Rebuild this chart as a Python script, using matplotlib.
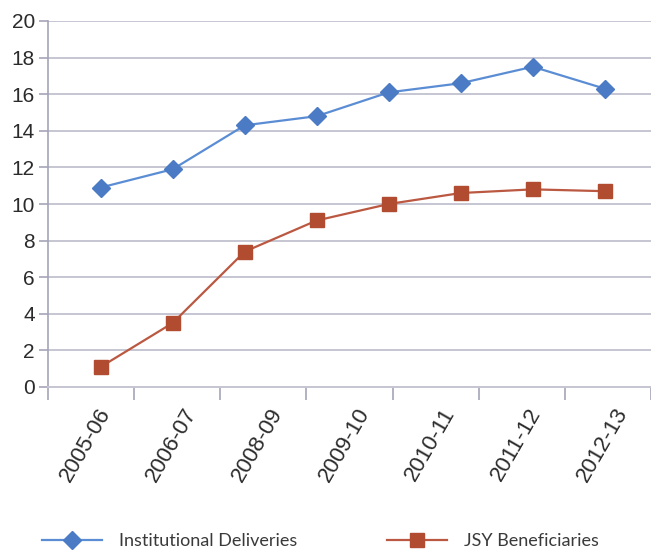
import matplotlib
matplotlib.use("Agg")
import matplotlib.pyplot as plt
import matplotlib.transforms as mtransforms
import numpy as np

# ---- data ----
year_labels = ["2005-06", "2006-07", "2008-09", "2009-10", "2010-11", "2011-12", "2012-13"]
institutional = [10.9, 11.9, 14.3, 14.8, 16.1, 16.6, 17.5, 16.3]
jsy = [1.1, 3.5, 7.4, 9.1, 10.0, 10.6, 10.8, 10.7]
series_names = ["Institutional Deliveries", "JSY Beneficiaries"]
yticks = [0, 2, 4, 6, 8, 10, 12, 14, 16, 18, 20]

# ---- style ----
blue_line = "#5b8dd4"
blue_mark = "#4a7bc4"
red_line = "#bb5841"
red_mark = "#b14c31"
grid_c = "#c6c6d2"
spine_c = "#a4a4b8"
text_c = "#2b2b2b"

W, H = 651, 550
fig = plt.figure(figsize=(W / 100, H / 100), dpi=100)
ax = fig.add_axes([48 / W, 1 - 387 / H, 1 - 48 / W, (387 - 21) / H])

n_lab = len(year_labels)
x_left, x_right = -0.5, -0.5 + (W - 48) / 86.6
ax.set_xlim(x_left, x_right)
ax.set_ylim(0, 20)

n_pts = len(institutional)
xpts = 0.112 + 0.836 * np.arange(n_pts)

ax.plot(xpts, institutional, color=blue_line, lw=1.6, marker="D", ms=9.5,
        mfc=blue_mark, mec=blue_mark, label=series_names[0], zorder=3)
ax.plot(xpts, jsy, color=red_line, lw=1.6, marker="s", ms=10.5,
        mfc=red_mark, mec=red_mark, label=series_names[1], zorder=3)

ax.set_yticks(yticks)
ax.set_yticklabels([str(v) for v in yticks], fontsize=15, color=text_c,
                   family="Liberation Sans")
ax.yaxis.grid(True, color=grid_c, lw=1.4)
ax.set_axisbelow(True)

ax.set_xticks(np.arange(n_lab))
ax.set_xticklabels(year_labels, fontsize=16, color=text_c, rotation=60,
                   ha="right", va="center", rotation_mode="anchor",
                   family="Liberation Sans")
ax.set_xticks(np.arange(n_lab + 1) - 0.5, minor=True)
ax.tick_params(axis="x", which="major", length=0, pad=16)
ax.tick_params(axis="x", which="minor", length=9, color=spine_c, width=1.2)
ax.tick_params(axis="y", length=6.5, color=spine_c, width=1.2, pad=3)

offset = mtransforms.ScaledTranslation(0.15, 0, fig.dpi_scale_trans)
for lbl in ax.get_xticklabels():
    lbl.set_transform(lbl.get_transform() + offset)

for s in ["top", "right"]:
    ax.spines[s].set_visible(False)
ax.spines["left"].set_color(spine_c)
ax.spines["bottom"].set_color(grid_c)
ax.spines["left"].set_linewidth(1.2)
ax.spines["bottom"].set_linewidth(1.4)

handles, labels = ax.get_legend_handles_labels()
fs = 13
leg = fig.legend(handles, labels, loc="center left",
                 bbox_to_anchor=(42 / W, 1 - 541 / H), ncol=2, frameon=False,
                 borderpad=0, borderaxespad=0, handlelength=3.3,
                 handletextpad=0.95, columnspacing=5.0,
                 prop={"family": "Lato", "size": fs})
for t in leg.get_texts():
    t.set_color("#3a3a3a")

fig.savefig("out.png", dpi=100)
